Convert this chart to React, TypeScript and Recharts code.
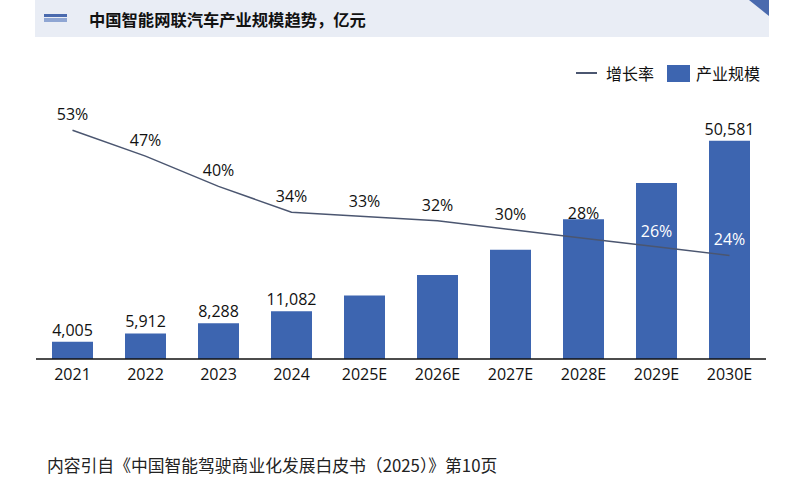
import { ComposedChart, Bar, Line, XAxis, YAxis } from 'recharts'

const years = ['2021', '2022', '2023', '2024', '2025E', '2026E', '2027E', '2028E', '2029E', '2030E']
const marketSize = [4005, 5912, 8288, 11082, 14739, 19455, 25292, 32374, 40791, 50581]
const growthRate = [53, 47, 40, 34, 33, 32, 30, 28, 26, 24]
const sizeLabels = ['4,005', '5,912', '8,288', '11,082', '', '', '', '', '', '50,581']

const FONT = '"Open Sans", "Noto Sans CJK SC", sans-serif'
const BAR_COLOR = '#3D65B0'
const LINE_COLOR = '#4B5670'

const data = years.map((year, i) => ({ year, size: marketSize[i], rate: growthRate[i] }))

const renderBarLabel = (props: any) => {
  const { x, y, width, index } = props
  const text = sizeLabels[index]
  if (!text) return null
  return (
    <text x={x + width / 2} y={y - 6} textAnchor="middle" fontSize={16} fill="#111">
      {text}
    </text>
  )
}

const renderRateLabel = (props: any) => {
  const { x, y, index, value } = props
  // the 2028E label sits higher to clear the bar top
  const lift = index === 7 ? 19 : 10
  const onBar = index >= 8
  return (
    <text x={x} y={y - lift} textAnchor="middle" fontSize={16} fill={onBar ? '#fff' : '#111'}>
      {value}%
    </text>
  )
}

export default function App() {
  return (
    <div style={{ position: 'absolute', left: 0, top: 0, width: 800, height: 485, background: '#fff', fontFamily: FONT }}>
      <div style={{ position: 'absolute', left: 35, top: 0, width: 734, height: 37, background: '#E9EDF5' }}>
        <div style={{ position: 'absolute', left: 9, top: 14, width: 23, height: 3, background: '#4A6AAE' }} />
        <div style={{ position: 'absolute', left: 9, top: 18, width: 23, height: 4, background: '#8FA6D3' }} />
        <div style={{ position: 'absolute', left: 54, top: 7, fontSize: 16.3, fontWeight: 700, color: '#111', lineHeight: '24px', fontFamily: '"Noto Sans CJK SC", sans-serif' }}>
          中国智能网联汽车产业规模趋势，亿元
        </div>
        <svg style={{ position: 'absolute', right: 0, top: 0 }} width={20} height={16}>
          <polygon points="0,0 20,0 20,16" fill="#4A6AAE" />
        </svg>
      </div>

      <div style={{ position: 'absolute', left: 576, top: 61, display: 'flex', alignItems: 'center', fontSize: 16, color: '#111', fontFamily: '"Noto Sans CJK SC", sans-serif', lineHeight: '24px' }}>
        <div style={{ width: 21, height: 2, background: LINE_COLOR, marginRight: 9 }} />
        <span>增长率</span>
        <div style={{ width: 23, height: 17, background: BAR_COLOR, marginLeft: 13, marginRight: 6 }} />
        <span>产业规模</span>
      </div>

      <ComposedChart
        width={800}
        height={485}
        data={data}
        margin={{ top: 100, right: 34, bottom: 96, left: 36 }}
        style={{ fontFamily: FONT }}
      >
        <XAxis
          dataKey="year"
          height={30}
          interval={0}
          tickLine={false}
          axisLine={{ stroke: '#111', strokeWidth: 1.5 }}
          tick={{ fill: '#111', fontSize: 16, dy: 2 }}
        />
        <YAxis yAxisId="size" hide domain={[0, 60000]} />
        <YAxis yAxisId="rate" hide domain={[0, 60]} orientation="right" />
        <Bar yAxisId="size" dataKey="size" fill={BAR_COLOR} barSize={41} isAnimationActive={false} label={renderBarLabel} />
        <Line
          yAxisId="rate"
          dataKey="rate"
          type="linear"
          stroke={LINE_COLOR}
          strokeWidth={1.5}
          dot={false}
          isAnimationActive={false}
          label={renderRateLabel}
        />
      </ComposedChart>

      <div style={{ position: 'absolute', left: 47, top: 453, fontSize: 16.8, color: '#222', fontFamily: '"Noto Sans CJK SC", sans-serif', lineHeight: '24px' }}>
        内容引自《中国智能驾驶商业化发展白皮书（2025）》第10页
      </div>
    </div>
  )
}
